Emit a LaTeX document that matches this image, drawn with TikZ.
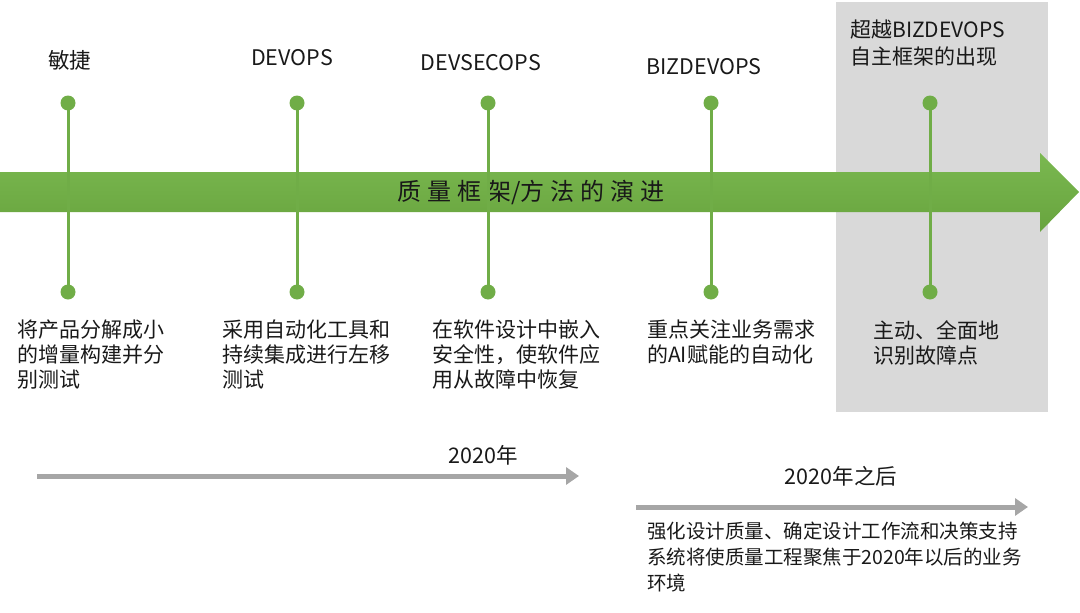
\documentclass[tikz,border=0pt]{standalone}
\usepackage{fontspec}
\setmainfont{Noto Sans CJK SC}
\usetikzlibrary{arrows.meta}
\definecolor{tlgreen}{RGB}{112,173,71}
\definecolor{tlgreenL}{RGB}{122,184,80}
\definecolor{tlgreenD}{RGB}{104,164,62}
\definecolor{boxgray}{RGB}{217,217,217}
\definecolor{arrgray}{RGB}{166,166,166}
\tikzset{
  toplabel/.style={anchor=center, font=\fontsize{21.5}{26}\selectfont, text=black!90, inner sep=0pt},
  desc/.style={anchor=north west, align=left, font=\fontsize{21}{25}\selectfont, text=black!90, inner sep=0pt},
  dot/.style={circle, fill=tlgreen, inner sep=0pt, minimum size=15pt},
  stem/.style={tlgreen, line width=3pt},
  grayarrow/.style={arrgray, line width=5pt, -{Triangle[length=13pt,width=17pt]}},
}
\begin{document}
\begin{tikzpicture}[x=1pt,y=-1pt]
\useasboundingbox (0,0) rectangle (1080,613);
% gray box
\fill[boxgray] (836,2) rectangle (1048,412);
% big arrow
\shade[top color=tlgreenL, bottom color=tlgreenD]
  (0,172) -- (1040,172) -- (1040,153) -- (1079,192) -- (1040,232) -- (1040,212) -- (0,212) -- cycle;
\node[font=\fontsize{24}{28}\selectfont, text=black!90, inner sep=0pt] (title) at (531,192)
  {质\hspace{6pt}量\hspace{6pt}框\hspace{6pt}架/方\hspace{6pt}法\hspace{6pt}的\hspace{6pt}演\hspace{6pt}进};
% stems and dots
\foreach \n/\x in {a/68,b/297,c/488,d/711,e/930}{
  \node[dot] (\n t) at (\x,103) {};
  \node[dot] (\n b) at (\x,292) {};
  \draw[stem] (\n t.center) -- (\n b.center);
}
% top labels
\node[toplabel] (la) at (70,60) {敏捷};
\node[toplabel] (lb) at (292,58) {DEVOPS};
\node[toplabel] (lc) at (481,63) {DEVSECOPS};
\node[toplabel] (ld) at (704,67) {BIZDEVOPS};
\node[desc, font=\fontsize{21}{27}\selectfont] (le) at (850,20) {超越BIZDEVOPS\\自主框架的出现};
% bottom descriptions
\node[desc] (da) at (17,320) {将产品分解成小\\的增量构建并分\\别测试};
\node[desc] (db) at (222,320) {采用自动化工具和\\持续集成进行左移\\测试};
\node[desc] (dc) at (432,320) {在软件设计中嵌入\\安全性，使软件应\\用从故障中恢复};
\node[desc] (dd) at (647,320) {重点关注业务需求\\的AI赋能的自动化};
\node[desc] (de) at (873,320) {主动、全面地\\识别故障点};
% gray arrows
\coordinate (g1s) at (37,476);
\coordinate (g1e) at (579,476);
\draw[grayarrow] (g1s) -- (g1e);
\node[toplabel] (y1) at (483,455) {2020年};
\coordinate (g2s) at (636,507);
\coordinate (g2e) at (1028,507);
\draw[grayarrow] (g2s) -- (g2e);
\node[toplabel] (y2) at (841,476) {2020年之后};
\node[desc, font=\fontsize{19.5}{26}\selectfont] (df) at (647,522) {强化设计质量、确定设计工作流和决策支持\\系统将使质量工程聚焦于2020年以后的业务\\环境};
\end{tikzpicture}
\end{document}
